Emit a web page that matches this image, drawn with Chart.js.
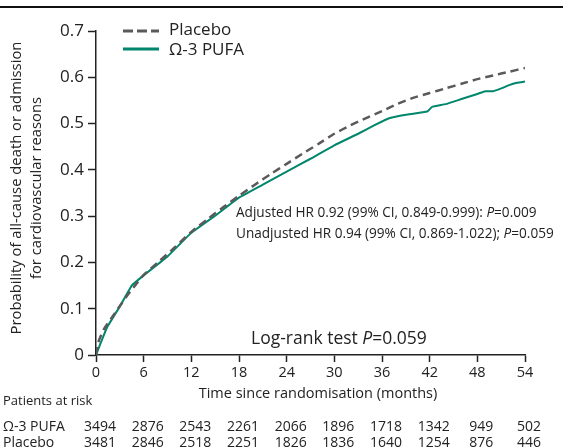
<!DOCTYPE html>
<html>
<head>
<meta charset="utf-8">
<script src="https://cdn.jsdelivr.net/npm/chart.js@4"></script>
<style>
  html, body { margin: 0; padding: 0; background: #fff; }
  #wrap { width: 563px; height: 448px; position: relative; }
</style>
</head>
<body>
<div id="wrap"><canvas id="kmChart" width="563" height="448"></canvas></div>
<script>
// Kaplan-Meier style curves
const placeboMonths = [0, 0.3, 1, 2, 3, 4, 5, 6, 8, 10, 12, 14, 16, 18, 20, 22, 24, 26, 28, 30, 32, 34, 36, 38, 40, 42, 44, 46, 48, 50, 52, 54];
const placeboValues = [0, 0.028, 0.056, 0.081, 0.106, 0.130, 0.152, 0.173, 0.203, 0.234, 0.266, 0.293, 0.319, 0.344, 0.368, 0.391, 0.413, 0.435, 0.456, 0.478, 0.496, 0.512, 0.527, 0.543, 0.556, 0.566, 0.576, 0.586, 0.596, 0.604, 0.612, 0.620];

const pufaMonths = [0, 0.5, 1.4, 3, 4.5, 6, 9, 12, 15, 18, 21, 24, 27, 30, 33, 35, 37, 39, 41.7, 42.3, 44, 46, 48, 49, 50, 51, 52, 53, 54];
const pufaValues = [0, 0.022, 0.060, 0.105, 0.150, 0.172, 0.213, 0.264, 0.301, 0.340, 0.368, 0.396, 0.424, 0.453, 0.478, 0.496, 0.512, 0.519, 0.526, 0.536, 0.542, 0.553, 0.564, 0.570, 0.570, 0.576, 0.583, 0.588, 0.591];

// patients at risk table
const riskMonths = [0, 6, 12, 18, 24, 30, 36, 42, 48, 54];
const riskPufa = [3494, 2876, 2543, 2261, 2066, 1896, 1718, 1342, 949, 502];
const riskPlacebo = [3481, 2846, 2518, 2251, 1826, 1836, 1640, 1254, 876, 446];

const xTicks = [0, 6, 12, 18, 24, 30, 36, 42, 48, 54];

const GREEN = '#00866c';
const GREY = '#5a5a5a';
const FONT = "'Open Sans', sans-serif";

function toPoints(xs, ys) {
    return xs.map((x, i) => ({ x: x, y: ys[i] }));
}

// extra texts: axis titles, legend, annotations and risk table
const extrasPlugin = {
    id: 'extras',
    afterDraw(chart) {
        const ctx = chart.ctx;
        const xs = chart.scales.x;
        ctx.save();

        // top rule
        ctx.fillStyle = '#111';
        ctx.fillRect(0, 6, 563, 2);
        ctx.fillStyle = '#222';

        // y title
        ctx.save();
        ctx.translate(17, 188);
        ctx.rotate(-Math.PI / 2);
        ctx.font = '14.8px ' + FONT;
        ctx.textAlign = 'center';
        ctx.textBaseline = 'middle';
        ctx.fillText('Probability of all-cause death or admission', 0, 0);
        ctx.fillText('for cardiovascular reasons', 0, 20);
        ctx.restore();

        // x title
        ctx.font = '14.5px ' + FONT;
        ctx.textAlign = 'center';
        ctx.textBaseline = 'middle';
        ctx.fillText('Time since randomisation (months)', 318, 394);

        // legend
        ctx.lineWidth = 3;
        ctx.strokeStyle = GREY;
        ctx.setLineDash([10, 4]);
        ctx.beginPath(); ctx.moveTo(123, 31); ctx.lineTo(159, 31); ctx.stroke();
        ctx.setLineDash([]);
        ctx.strokeStyle = GREEN;
        ctx.beginPath(); ctx.moveTo(123, 49); ctx.lineTo(159, 49); ctx.stroke();
        ctx.font = '17px ' + FONT;
        ctx.textAlign = 'left';
        ctx.fillText('Placebo', 169, 30);
        ctx.fillText('\u03A9-3 PUFA', 169, 50);

        // annotations
        function mixed(parts, x, y, font) {
            let cx = x;
            parts.forEach(p => {
                ctx.font = (p.italic ? 'italic ' : '') + font;
                ctx.fillText(p.t, cx, y);
                cx += ctx.measureText(p.t).width;
            });
        }
        mixed([{ t: 'Adjusted HR 0.92 (99% CI, 0.849-0.999): ' }, { t: 'P', italic: true }, { t: '=0.009' }], 236, 213, '13.6px ' + FONT);
        mixed([{ t: 'Unadjusted HR 0.94 (99% CI, 0.869-1.022); ' }, { t: 'P', italic: true }, { t: '=0.059' }], 236, 234, '13.6px ' + FONT);
        mixed([{ t: 'Log-rank test ' }, { t: 'P', italic: true }, { t: '=0.059' }], 251, 339, '17.5px ' + FONT);

        // risk table
        ctx.font = '13px ' + FONT;
        ctx.textAlign = 'left';
        ctx.fillText('Patients at risk', 3, 401);
        ctx.font = '14px ' + FONT;
        ctx.fillText('\u03A9-3 PUFA', 3, 427);
        ctx.fillText('Placebo', 3, 443);
        ctx.textAlign = 'center';
        riskMonths.forEach((m, i) => {
            const px = xs.getPixelForValue(m) + 4;
            ctx.fillText(String(riskPufa[i]), px, 427);
            ctx.fillText(String(riskPlacebo[i]), px, 443);
        });
        ctx.restore();
    }
};

new Chart(document.getElementById('kmChart'), {
    type: 'line',
    data: {
        datasets: [{
            label: 'Placebo',
            data: toPoints(placeboMonths, placeboValues),
            borderColor: GREY,
            borderWidth: 2.5,
            borderDash: [8, 5],
            pointRadius: 0,
            tension: 0.2
        }, {
            label: '\u03A9-3 PUFA',
            data: toPoints(pufaMonths, pufaValues),
            borderColor: GREEN,
            borderWidth: 2,
            pointRadius: 0,
            tension: 0.1
        }]
    },
    options: {
        responsive: false,
        animation: false,
        events: [],
        layout: { padding: { left: 0, top: 31, right: 38, bottom: 63 } },
        plugins: {
            legend: { display: false },
            tooltip: { enabled: false }
        },
        scales: {
            x: {
                type: 'linear',
                min: 0,
                max: 54,
                afterBuildTicks: (scale) => { scale.ticks = xTicks.map(v => ({ value: v })); },
                afterFit: (scale) => { scale.height = 30; },
                ticks: { color: '#222', font: { family: FONT, size: 14.5 }, padding: 2, maxRotation: 0 },
                grid: { drawOnChartArea: false, color: '#222', tickLength: 7, tickWidth: 1.5 },
                border: { color: '#222', width: 1.5 }
            },
            y: {
                min: 0,
                max: 0.7,
                ticks: { stepSize: 0.1, color: '#222', font: { family: FONT, size: 17 }, padding: 4 },
                afterFit: (scale) => { scale.width = 96; },
                grid: { drawOnChartArea: false, color: '#222', tickLength: 8, tickWidth: 1.5 },
                border: { color: '#222', width: 1.5 }
            }
        }
    },
    plugins: [extrasPlugin]
});
</script>
</body>
</html>
